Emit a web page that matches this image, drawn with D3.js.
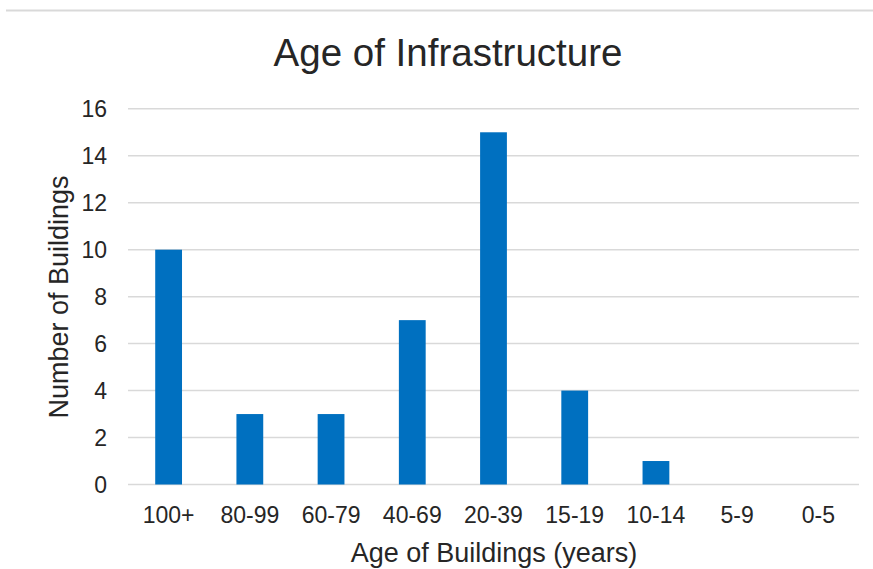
<!DOCTYPE html>
<html>
<head>
  <meta charset="utf-8">
  <title>Age of Infrastructure</title>
  <style>
    body { margin: 0; background: #fff; }
    text { font-family: "Liberation Sans", Arial, sans-serif; fill: #262626; }
    .grid line { stroke: #d9d9d9; stroke-width: 1.5; }
  </style>
</head>
<body>
  <svg id="chart"></svg>
  <script src="https://cdnjs.cloudflare.com/ajax/libs/d3/7.8.5/d3.min.js"></script>
  <script>
    // data
    const categories = ["100+", "80-99", "60-79", "40-69", "20-39", "15-19", "10-14", "5-9", "0-5"];
    const buildings = [10, 3, 3, 7, 15, 4, 1, 0, 0];
    const yTicks = [0, 2, 4, 6, 8, 10, 12, 14, 16];

    const W = 873, H = 569;
    const svg = d3.select("#chart").attr("width", W).attr("height", H);

    // top border line
    svg.append("line")
      .attr("x1", 6).attr("x2", W).attr("y1", 10.5).attr("y2", 10.5)
      .attr("stroke", "#d9d9d9").attr("stroke-width", 2);

    const x = d3.scaleBand().domain(categories).range([128, 859]).padding(0);
    const y = d3.scaleLinear().domain([0, 16]).range([484.5, 108.8]);

    // grid
    svg.append("g").attr("class", "grid")
      .selectAll("line").data(yTicks).enter().append("line")
      .attr("x1", 128).attr("x2", 859)
      .attr("y1", d => y(d)).attr("y2", d => y(d));

    // y labels
    svg.append("g").selectAll("text").data(yTicks).enter().append("text")
      .attr("x", 107).attr("y", d => y(d)).attr("dy", "0.35em")
      .attr("text-anchor", "end").style("font-size", "23px")
      .text(d => d);

    // bars
    const barW = x.bandwidth() * 0.33;
    svg.append("g").selectAll("rect").data(buildings).enter().append("rect")
      .attr("x", (d, i) => x(categories[i]) + x.bandwidth() / 2 - barW / 2)
      .attr("width", barW)
      .attr("y", d => y(d))
      .attr("height", d => y(0) - y(d))
      .attr("fill", "#0070c0");

    // x labels
    svg.append("g").selectAll("text").data(categories).enter().append("text")
      .attr("x", d => x(d) + x.bandwidth() / 2).attr("y", 523)
      .attr("text-anchor", "middle").style("font-size", "23px")
      .text(d => d);

    // titles
    svg.append("text").attr("x", 448).attr("y", 66)
      .attr("text-anchor", "middle").style("font-size", "38.5px")
      .attr("fill", "#1a1a1a")
      .text("Age of Infrastructure");

    svg.append("text").attr("x", 494).attr("y", 562)
      .attr("text-anchor", "middle").style("font-size", "27px")
      .text("Age of Buildings (years)");

    svg.append("text")
      .attr("transform", "translate(68,297) rotate(-90)")
      .attr("text-anchor", "middle").style("font-size", "27px")
      .text("Number of Buildings");
  </script>
</body>
</html>
